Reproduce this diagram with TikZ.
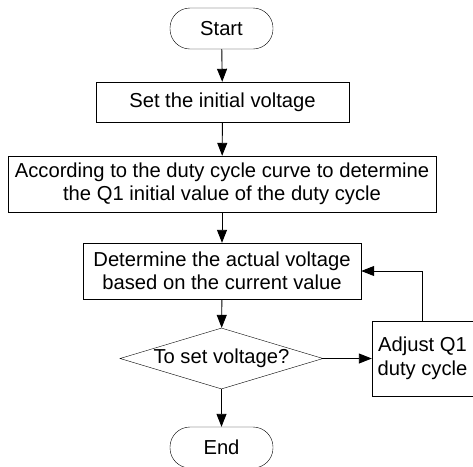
\documentclass[tikz,border=0pt]{standalone}
\usepackage{fontspec}
\setmainfont{Liberation Sans}
\usetikzlibrary{shapes.geometric,arrows.meta}
\begin{document}
\begin{tikzpicture}[x=1pt,y=-1pt,
  every node/.style={font=\fontsize{20.2}{23.5}\selectfont, inner sep=0pt, align=center},
  term/.style={draw, rounded corners=20pt, minimum width=103pt, minimum height=41pt},
  proc/.style={draw, rectangle},
  dec/.style={draw, diamond, aspect=3.33, minimum width=203pt, minimum height=61pt},
  line/.style={draw, line width=0.9pt},
  arr/.style={line, -{Triangle[length=13pt,width=10pt]}}
]
\useasboundingbox (0,0) rectangle (473,466);
\clip (0,0) rectangle (473,466);
\node[term] (start) at (221.5,28.5) {Start};
\node[proc, minimum width=253pt, minimum height=40pt] (set) at (222.5,102) {Set the initial voltage};
\node[proc, minimum width=428pt, minimum height=56pt] (acc) at (222,184) {According to the duty cycle curve to determine\\the Q1 initial value of the duty cycle};
\node[proc, minimum width=278pt, minimum height=56pt] (det) at (222,271) {Determine the actual voltage\\based on the current value};
\node[dec] (dec) at (221.5,358.5) {To set voltage?};
\node[proc, minimum width=101pt, minimum height=75pt] (adj) at (422.5,358.5) {Adjust Q1\\duty cycle};
\node[term] (end) at (221.5,447.5) {End};
\coordinate (c1) at (adj.north |- det.east);
\draw[arr] (start) -- (set);
\draw[arr] (set) -- (acc);
\draw[arr] (acc) -- (det);
\draw[arr] (det) -- (dec);
\draw[arr] (dec) -- (adj);
\draw[arr] (dec) -- (end);
\draw[line] (adj.north) -- (c1);
\draw[arr] (c1) -- (det.east);
\end{tikzpicture}
\end{document}
